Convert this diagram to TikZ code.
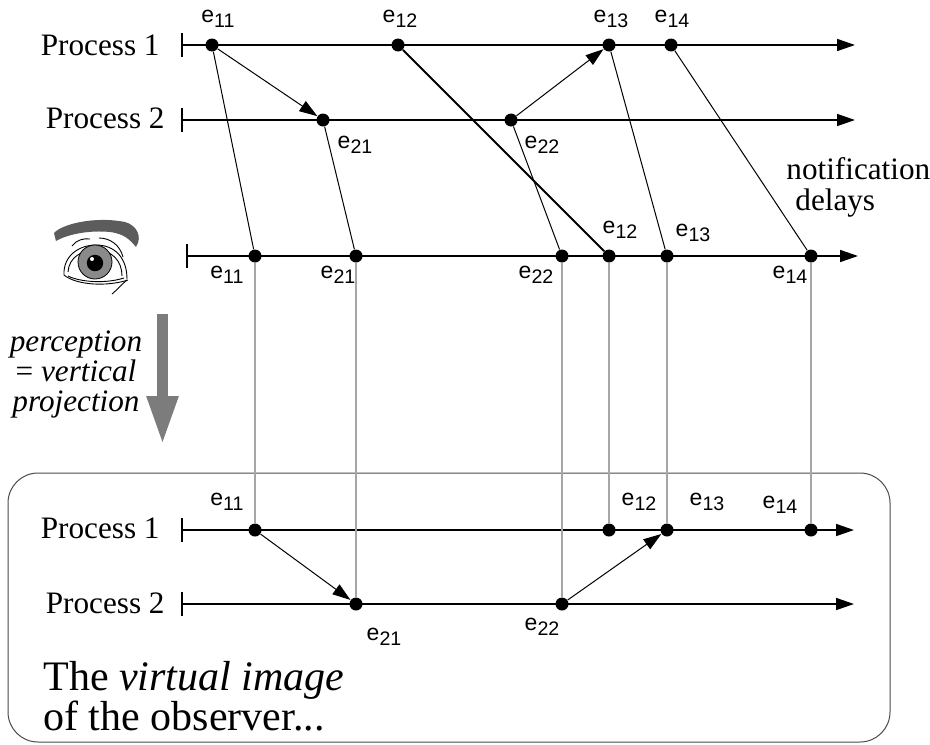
\documentclass[tikz,border=0pt]{standalone}
\usepackage{fontspec}
\setmainfont{Liberation Serif}
\newfontfamily\evfont{Liberation Sans}
\usetikzlibrary{arrows.meta}

\definecolor{projgray}{HTML}{A6A6A6}
\definecolor{arrowgray}{HTML}{7C7C7C}
\definecolor{irisgray}{HTML}{8A8A8A}
\definecolor{browgray}{HTML}{5C5C5C}
\definecolor{boxgray}{HTML}{4A4A4A}

% event label: e with a slightly lowered index
\newcommand\evlab[1]{{\evfont\fontsize{11.5}{12}\selectfont e\raisebox{-2.6pt}{\fontsize{9.8}{10}\selectfont #1}}}

\begin{document}
\begin{tikzpicture}[x=0.5pt,y=-0.5pt,
  ev/.style={circle,fill=black,inner sep=0pt,minimum size=6.5pt},
  lab/.style={inner sep=0pt,anchor=center},
  proc/.style={font=\fontsize{15.6}{16}\selectfont,inner sep=0pt,anchor=base east},
  txt/.style={font=\fontsize{15.6}{16}\selectfont,inner sep=0pt},
  timeline/.style={line width=0.8pt,-{Triangle[length=9pt,width=6pt]}},
  msg/.style={line width=0.5pt,-{Triangle[length=9pt,width=6pt]}},
  notif/.style={line width=0.5pt},
  proj/.style={line width=0.55pt,projgray},
  tick/.style={line width=0.8pt}]
\useasboundingbox (0,0) rectangle (930,744);

% ---------------- real time lines ----------------
\coordinate (p1s) at (182,45);  \coordinate (p1e) at (855,45);
\coordinate (p2s) at (182,120); \coordinate (p2e) at (855,120);
\coordinate (obs) at (187,256); \coordinate (obe) at (858,256);

\node[proc] (lp1) at (160,55) {Process 1};
\node[proc] (lp2) at (165,128) {Process 2};

\node[ev] (a11) at (212,45) {};
\node[ev] (a12) at (398,45) {};
\node[ev] (a13) at (609,45) {};
\node[ev] (a14) at (671,45) {};
\node[ev] (a21) at (323,120) {};
\node[ev] (a22) at (511,120) {};

% events as seen by the observer
\node[ev] (o11) at (255,256) {};
\node[ev] (o21) at (356,256) {};
\node[ev] (o22) at (562,256) {};
\node[ev] (o12) at (609,256) {};
\node[ev] (o13) at (667,256) {};
\node[ev] (o14) at (811,256) {};

\draw[timeline] (p1s) -- (p1e);
\draw[timeline] (p2s) -- (p2e);
\draw[timeline] (obs) -- (obe);
\foreach \c in {p1s,p2s,obs}
  \draw[tick] ([yshift=6pt]\c) -- ([yshift=-6pt]\c);

\draw[msg] (a11) -- (a21);
\draw[msg] (a22) -- (a13);

\draw[notif] (a11) -- (o11);
\draw[notif] (a21) -- (o21);
\draw[notif] (a22) -- (o22);
\draw[line width=0.9pt] (a12) -- (o12);
\draw[notif] (a13) -- (o13);
\draw[notif] (a14) -- (o14);

\node[lab] (ta11) at (218,19) {\evlab{11}};
\node[lab] (ta12) at (400,19) {\evlab{12}};
\node[lab] (ta13) at (611,19) {\evlab{13}};
\node[lab] (ta14) at (672,19) {\evlab{14}};
\node[lab] (ta21) at (355,145) {\evlab{21}};
\node[lab] (ta22) at (542,145) {\evlab{22}};

\node[lab] (to11) at (227,275) {\evlab{11}};
\node[lab] (to21) at (338,275) {\evlab{21}};
\node[lab] (to22) at (536,275) {\evlab{22}};
\node[lab] (to12) at (620,230) {\evlab{12}};
\node[lab] (to13) at (693,233) {\evlab{13}};
\node[lab] (to14) at (790,275) {\evlab{14}};

\node[txt,anchor=base west] (nt1) at (786,179) {notification};
\node[txt,anchor=base west] (nt2) at (795,210) {delays};

% ---------------- the eye ----------------
\fill[browgray] (54,233) .. controls (62,224) and (95,216) .. (125,222)
  .. controls (136,225) and (143,236) .. (136,247)
  .. controls (130,240) and (125,234) .. (110,232)
  .. controls (90,230) and (68,234) .. (56,241) -- cycle;
\begin{scope}[line width=0.45pt]
  \draw (64,275) .. controls (63,255) and (80,245) .. (96,245)
        .. controls (115,245) and (127,258) .. (127,279);
  \draw (68,272) .. controls (69,257) and (82,250) .. (96,250)
        .. controls (112,250) and (122,261) .. (122,276);
  \draw (64,275) .. controls (76,285) and (106,287) .. (128,280);
  \draw (68,276) .. controls (80,282) and (105,284) .. (124,278);
  \draw (72,246) .. controls (76,240) and (84,238) .. (90,239);
  \draw (99,238) .. controls (110,238) and (120,245) .. (123,257);
  \draw (127,280) .. controls (122,284) and (118,289) .. (112,294);
\end{scope}
\filldraw[fill=irisgray,draw=black,line width=0.4pt] (95,262) circle (8.5pt);
\fill[black] (95,263) circle (4.1pt);
\fill[white] (92,259) circle (1pt);

% ---------------- perception arrow ----------------
\coordinate (pa) at (162.5,314);
\coordinate (pb) at (162.5,445);
\draw[arrowgray,line width=5.5pt,-{Triangle[length=24.5pt,width=14.5pt]}] (pa) -- (pb);
\node[txt,font=\fontsize{15.6}{16}\selectfont\itshape,anchor=base] (pc1) at (76,351) {perception};
\node[txt,anchor=base] (pc2) at (76,381) {= \textit{vertical}};
\node[txt,font=\fontsize{15.6}{16}\selectfont\itshape,anchor=base] (pc3) at (76,411) {projection};

% ---------------- virtual image box ----------------
\draw[boxgray,line width=0.5pt,rounded corners=15pt] (8,473) rectangle (890,742);

\coordinate (q1s) at (182,530); \coordinate (q1e) at (854,530);
\coordinate (q2s) at (182,604); \coordinate (q2e) at (854,604);
\node[proc] (lq1) at (160,538) {Process 1};
\node[proc] (lq2) at (165,613) {Process 2};

\node[ev] (b11) at (255,530) {};
\node[ev] (b12) at (609,530) {};
\node[ev] (b13) at (667,530) {};
\node[ev] (b14) at (811,530) {};
\node[ev] (b21) at (356,604) {};
\node[ev] (b22) at (562,604) {};

\draw[timeline] (q1s) -- (q1e);
\draw[timeline] (q2s) -- (q2e);
\foreach \c in {q1s,q2s}
  \draw[tick] ([yshift=6pt]\c) -- ([yshift=-6pt]\c);

\draw[msg] (b11) -- (b21);
\draw[msg] (b22) -- (b13);

% vertical projection of the observed events
\draw[proj] (o11) -- (b11);
\draw[proj] (o21) -- (b21);
\draw[proj] (o22) -- (b22);
\draw[proj] (o12) -- (b12);
\draw[proj] (o13) -- (b13);
\draw[proj] (o14) -- (b14);

\node[lab] (tb11) at (227,502) {\evlab{11}};
\node[lab] (tb12) at (639,502) {\evlab{12}};
\node[lab] (tb13) at (707,502) {\evlab{13}};
\node[lab] (tb14) at (780,505) {\evlab{14}};
\node[lab] (tb21) at (384,637) {\evlab{21}};
\node[lab] (tb22) at (542,627) {\evlab{22}};

\node[font=\fontsize{21}{22}\selectfont,inner sep=0pt,anchor=base west] (vi1) at (43,690) {The \textit{virtual image}};
\node[font=\fontsize{21}{22}\selectfont,inner sep=0pt,anchor=base west] (vi2) at (43,730) {of the observer...};
\end{tikzpicture}
\end{document}
